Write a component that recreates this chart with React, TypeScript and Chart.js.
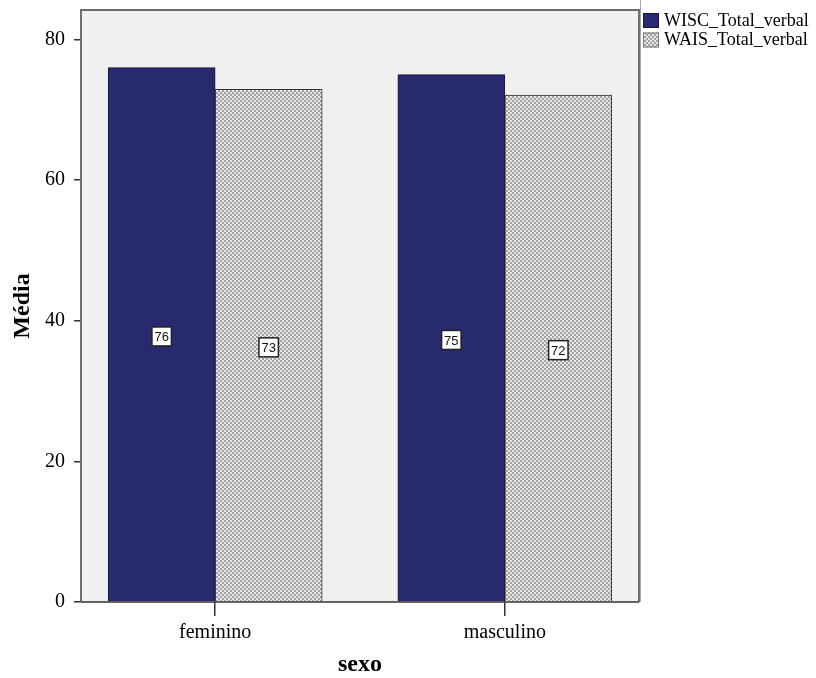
import React, { useEffect, useRef } from "react";
import { Chart, registerables } from "chart.js";

Chart.register(...registerables);

const categories = ["feminino", "masculino"];
const categoryPositions = [1, 2];
const seriesNames = ["WISC_Total_verbal", "WAIS_Total_verbal"];
const wiscValues = [76.0, 75.0];
const waisValues = [72.9, 72.1];
const wiscLabels = ["76", "75"];
const waisLabels = ["73", "72"];
const yTicks = [0, 20, 40, 60, 80];

const SERIF = '"Liberation Serif", "Times New Roman", serif';
const SANS = '"Liberation Sans", Arial, sans-serif';
const NAVY = "#282a70";

function makePattern(): CanvasPattern | string {
  const c = document.createElement("canvas");
  c.width = 4;
  c.height = 4;
  const g = c.getContext("2d");
  if (!g) return "#c0c0c0";
  g.fillStyle = "#e6e6e6";
  g.fillRect(0, 0, 4, 4);
  g.fillStyle = "#a2a2a2";
  g.fillRect(0, 0, 2, 2);
  g.fillRect(2, 2, 2, 2);
  const p = g.createPattern(c, "repeat");
  return p || "#c0c0c0";
}

export default function App() {
  const ref = useRef<HTMLCanvasElement>(null);
  useEffect(() => {
    if (!ref.current) return;
    const pattern = makePattern();
    const labelSets = [wiscLabels, waisLabels];

    const framePlugin = {
      id: "frame",
      beforeDraw(chart: any) {
        const { ctx, chartArea: a } = chart;
        ctx.save();
        ctx.fillStyle = "#f0f0f0";
        ctx.fillRect(a.left, a.top, a.right - a.left, a.bottom - a.top);
        ctx.restore();
      },
      afterDraw(chart: any) {
        const { ctx, chartArea: a } = chart;
        ctx.save();
        ctx.strokeStyle = "#6e6e6e";
        ctx.lineWidth = 2;
        ctx.beginPath();
        ctx.moveTo(a.left, a.bottom);
        ctx.lineTo(a.left, a.top);
        ctx.lineTo(a.right, a.top);
        ctx.lineTo(a.right, a.bottom);
        ctx.stroke();
        ctx.strokeStyle = "#a8a8a8";
        ctx.lineWidth = 1;
        ctx.beginPath();
        ctx.moveTo(a.right + 1.5, 0);
        ctx.lineTo(a.right + 1.5, a.bottom);
        ctx.stroke();
        ctx.strokeStyle = "#333";
        ctx.lineWidth = 1.5;
        ctx.beginPath();
        ctx.moveTo(a.left, a.bottom);
        ctx.lineTo(a.right, a.bottom);
        ctx.stroke();

        // legend
        const lx = a.right + 4;
        const fills = [NAVY, pattern];
        const borders = ["#1a1a40", "#777"];
        ctx.font = "18px " + SERIF;
        ctx.textBaseline = "middle";
        ctx.textAlign = "left";
        seriesNames.forEach((name, i) => {
          const y = 13 + i * 19.5;
          ctx.fillStyle = fills[i] as any;
          ctx.fillRect(lx, y, 16, 15);
          ctx.strokeStyle = borders[i];
          ctx.lineWidth = 1;
          ctx.strokeRect(lx + 0.5, y + 0.5, 15, 14);
          ctx.fillStyle = "#000";
          ctx.fillText(name, lx + 21, y + 8);
        });

        // data labels
        ctx.font = "13px " + SANS;
        ctx.textAlign = "center";
        ctx.textBaseline = "middle";
        chart.data.datasets.forEach((ds: any, di: number) => {
          const meta = chart.getDatasetMeta(di);
          meta.data.forEach((bar: any, i: number) => {
            const txt = labelSets[di][i];
            const cx = bar.x;
            const cy = (bar.y + bar.base) / 2 + 2;
            const w = ctx.measureText(txt).width + 5;
            const h = 19;
            ctx.fillStyle = "#fff";
            ctx.fillRect(cx - w / 2, cy - h / 2, w, h);
            ctx.strokeStyle = "#222";
            ctx.lineWidth = 1.5;
            ctx.strokeRect(cx - w / 2, cy - h / 2, w, h);
            ctx.fillStyle = "#111";
            ctx.fillText(txt, cx, cy + 1);
          });
        });
        ctx.restore();
      },
    };

    const chart = new Chart(ref.current, {
      type: "bar",
      data: {
        datasets: [
          {
            label: seriesNames[0],
            data: categoryPositions.map((x, i) => ({ x, y: wiscValues[i] })),
            backgroundColor: NAVY,
            borderColor: "#1a1a30",
            borderWidth: 1,
            barThickness: 107,
          },
          {
            label: seriesNames[1],
            data: categoryPositions.map((x, i) => ({ x, y: waisValues[i] })),
            backgroundColor: pattern as any,
            borderColor: "#333",
            borderWidth: 1,
            barThickness: 107,
          },
        ],
      },
      options: {
        animation: false,
        responsive: false,
        maintainAspectRatio: false,
        layout: { padding: { left: 0, top: 10, right: 177, bottom: 0 } },
        plugins: {
          legend: { display: false },
          tooltip: { enabled: false },
        },
        scales: {
          x: {
            type: "linear",
            offset: false,
            min: 0.5368,
            max: 2.4632,
            grid: {
              offset: false,
              drawOnChartArea: false,
              drawTicks: true,
              tickLength: 14,
              color: "#333",
              lineWidth: 1.5,
            },
            border: { display: false },
            afterBuildTicks: (scale: any) => {
              scale.ticks = categoryPositions.map((v) => ({ value: v }));
            },
            afterFit: (scale: any) => {
              scale.height = 76;
              scale.paddingLeft = 0;
              scale.paddingRight = 0;
            },
            ticks: {
              autoSkip: false,
              maxRotation: 0,
              padding: 5,
              color: "#000",
              font: { family: SERIF, size: 20 },
              callback: (v: any) => categories[categoryPositions.indexOf(Number(v))] ?? "",
            },
            title: {
              display: true,
              text: "sexo",
              color: "#000",
              font: { family: SERIF, size: 24, weight: "bold" },
              padding: { top: 0, bottom: -1 },
            },
          },
          y: {
            type: "linear",
            min: 0,
            max: 84.2,
            grid: {
              drawOnChartArea: false,
              drawTicks: true,
              tickLength: 7,
              color: "#333",
              lineWidth: 1.5,
            },
            border: { display: false },
            afterBuildTicks: (scale: any) => {
              scale.ticks = yTicks.map((v) => ({ value: v }));
            },
            afterFit: (scale: any) => {
              scale.width = 81;
              scale.paddingTop = 0;
              scale.paddingBottom = 0;
            },
            ticks: {
              padding: 9,
              color: "#000",
              font: { family: SERIF, size: 20 },
            },
            title: {
              display: true,
              text: "Média",
              color: "#000",
              font: { family: SERIF, size: 24, weight: "bold" },
              padding: { top: 8, bottom: 0 },
            },
          },
        },
      },
      plugins: [framePlugin],
    });
    return () => chart.destroy();
  }, []);

  return (
    <div style={{ position: "fixed", left: 0, top: 0, width: 816, height: 678, background: "#fff" }}>
      <canvas ref={ref} width={816} height={678} style={{ width: 816, height: 678, display: "block" }} />
    </div>
  );
}
